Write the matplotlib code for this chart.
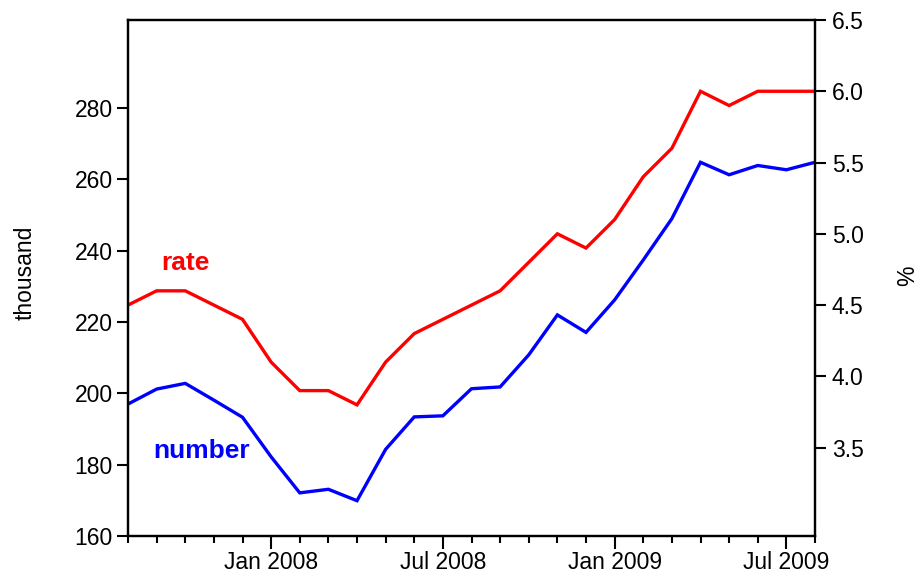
import numpy as np
import matplotlib
matplotlib.use("Agg")
import matplotlib.pyplot as plt

plt.rcParams['font.family'] = ['Liberation Sans', 'DejaVu Sans']

# monthly, Aug 2007 .. Aug 2009
months = ["Aug 2007", "Sep 2007", "Oct 2007", "Nov 2007", "Dec 2007",
          "Jan 2008", "Feb 2008", "Mar 2008", "Apr 2008", "May 2008", "Jun 2008",
          "Jul 2008", "Aug 2008", "Sep 2008", "Oct 2008", "Nov 2008", "Dec 2008",
          "Jan 2009", "Feb 2009", "Mar 2009", "Apr 2009", "May 2009", "Jun 2009",
          "Jul 2009", "Aug 2009"]

# number (thousand, left axis)
number = [197.0, 201.2, 202.8, 198.1, 193.3, 182.2, 172.1, 173.1, 169.9, 184.3,
          193.4, 193.7, 201.3, 201.8, 210.8, 222.0, 217.1, 226.2, 237.4, 249.0,
          264.8, 261.3, 263.9, 262.7, 264.8]

# rate (%, right axis)
rate = [4.5, 4.6, 4.6, 4.5, 4.4, 4.1, 3.9, 3.9, 3.8, 4.1, 4.3, 4.4, 4.5, 4.6,
        4.8, 5.0, 4.9, 5.1, 5.4, 5.6, 6.0, 5.9, 6.0, 6.0, 6.0]

label_months = ["Jan 2008", "Jul 2008", "Jan 2009", "Jul 2009"]
left_ticks = [160, 180, 200, 220, 240, 260, 280]
right_ticks = [3.5, 4.0, 4.5, 5.0, 5.5, 6.0, 6.5]

x = np.arange(len(months))

fig = plt.figure(figsize=(9.21, 5.78), dpi=100)
ax = fig.add_axes([128 / 921, 42 / 578, 687 / 921, 516 / 578])
ax2 = ax.twinx()

ax.plot(x, number, color="#0000ff", lw=2.4, solid_joinstyle="miter")
ax2.plot(x, rate, color="#ff0000", lw=2.4, solid_joinstyle="miter")

ax.set_xlim(0, len(months) - 1)
ax.set_ylim(160, 304.7)
ax2.set_ylim(2.88, 6.5)

# month ticks, labelled at Jan / Jul
ax.set_xticks(x, minor=True)
major = [months.index(m) for m in label_months]
ax.set_xticks(major)
ax.set_xticklabels(label_months)
ax.tick_params(axis="x", which="major", length=9, width=1.5, pad=2, labelsize=16.5)
ax.tick_params(axis="x", which="minor", length=5, width=1.5)

ax.set_yticks(left_ticks)
ax.tick_params(axis="y", length=8, width=1.5, pad=3, labelsize=16.5)
ax2.set_yticks(right_ticks)
ax2.set_yticklabels([f"{v:.1f}" for v in right_ticks])
ax2.tick_params(axis="y", length=8, width=1.5, pad=4, labelsize=16.5)

for a in (ax, ax2):
    for s in a.spines.values():
        s.set_linewidth(1.6)

ax.text(161 / 921, 1 - 270 / 578, "rate", transform=fig.transFigure,
        color="#ff0000", fontsize=19, fontweight="bold", ha="left", va="baseline")
ax.text(153 / 921, 1 - 458 / 578, "number", transform=fig.transFigure,
        color="#0000ff", fontsize=19, fontweight="bold", ha="left", va="baseline")

fig.text(25 / 921, 1 - 273 / 578, "thousand", rotation=90, fontsize=16.5,
         ha="center", va="center")
fig.text(908 / 921, 1 - 276 / 578, "%", rotation=90, fontsize=16.5,
         ha="center", va="center")

fig.savefig("out.png", dpi=100)
